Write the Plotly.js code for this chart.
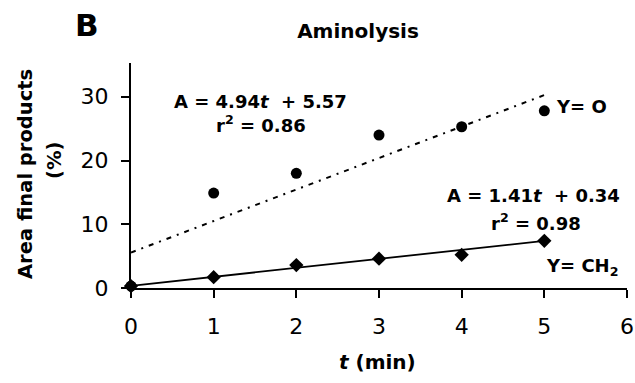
<!DOCTYPE html>
<html>
<head>
<meta charset="utf-8">
<script src="https://cdn.plot.ly/plotly-3.0.1.min.js"></script>
<style>html,body{margin:0;padding:0;background:#fff;}#chart{width:635px;height:383px;}</style>
</head>
<body>
<div id="chart"></div>
<script>
// Data
const timeMin = [0, 1, 2, 3, 4, 5];
const areaYO = [0.3, 14.9, 18.0, 24.0, 25.3, 27.8];   // Y = O (circles)
const areaYCH2 = [0.3, 1.7, 3.6, 4.6, 5.2, 7.4];      // Y = CH2 (diamonds)
const fitSlope = [4.94, 1.41];
const fitIntercept = [5.57, 0.34];
const fitR2 = [0.86, 0.98];
const fitRange = [0, 5];
const xTicks = [0, 1, 2, 3, 4, 5, 6];
const yTicks = [0, 10, 20, 30];

const FONT = 'DejaVu Sans, sans-serif';
const fitY = (i) => fitRange.map(t => fitSlope[i] * t + fitIntercept[i]);

const traces = [
  {x: fitRange, y: fitY(0), mode: 'lines', line: {color: '#000', width: 2, dash: '5px,6px,2px,6px'}, showlegend: false, hoverinfo: 'skip'},
  {x: fitRange, y: fitY(1), mode: 'lines', line: {color: '#000', width: 1.8}, showlegend: false, hoverinfo: 'skip'},
  {x: timeMin, y: areaYCH2, mode: 'markers', name: 'Y= CH2', marker: {symbol: 'diamond', size: 11, color: '#000'}, cliponaxis: false},
  {x: timeMin, y: areaYO, mode: 'markers', name: 'Y= O', marker: {symbol: 'circle', size: 11, color: '#000'}, cliponaxis: false}
];

const L = 131, W = 496, T = 63, H = 225;
const px = (x) => (x - L) / W;
const py = (y) => (T + H - y) / H;

const bold = {family: FONT, size: 18, color: '#000'};
function note(text, x, y, font, extra) {
  return Object.assign({text: text, xref: 'paper', yref: 'paper', x: px(x), y: py(y),
    xanchor: 'center', yanchor: 'middle', showarrow: false, font: font}, extra || {});
}
const annotations = [
  note('<b>B</b>', 87, 25, {family: FONT, size: 31, color: '#000'}),
  note('<b>A = ' + fitSlope[0] + '<i>t</i>  + ' + fitIntercept[0] + '</b>', 260, 101, bold),
  note('<b>r<sup>2</sup> = ' + fitR2[0] + '</b>', 261, 124, bold),
  note('<b>Y= O</b>', 581, 106, bold),
  note('<b>A = ' + fitSlope[1] + '<i>t</i>  + ' + fitIntercept[1] + '</b>', 533, 195, bold),
  note('<b>r<sup>2</sup> = ' + fitR2[1] + '</b>', 536, 222, bold),
  note('<b>Y= CH<sub>2</sub></b>', 582, 267, bold),
  note('<b>Area final products</b>', 25, 174, {family: FONT, size: 19.5, color: '#000'}, {textangle: -90}),
  note('<b>(%)</b>', 54, 161, {family: FONT, size: 19.5, color: '#000'}, {textangle: -90}),
  note('<b><i>t</i> (min)</b>', 377, 362, {family: FONT, size: 20, color: '#000'})
];

const layout = {
  width: 635, height: 383,
  margin: {l: L, r: 635 - L - W, t: T, b: 383 - T - H, pad: 0},
  paper_bgcolor: '#fff', plot_bgcolor: '#fff',
  showlegend: false,
  title: {text: '<b>Aminolysis</b>', xref: 'paper', x: px(358), xanchor: 'center', yref: 'container', y: 1 - 31 / 383, yanchor: 'middle', font: {family: FONT, size: 20, color: '#000'}},
  xaxis: {range: [0, 6], tickvals: xTicks, ticktext: xTicks.map(String), showgrid: false, zeroline: false, showline: true, linecolor: '#000', linewidth: 2, ticks: 'outside', ticklen: 8, tickwidth: 2, tickcolor: '#000', ticklabelstandoff: 10, tickfont: {family: FONT, size: 22, color: '#000'}, fixedrange: true},
  yaxis: {range: [0, 35.3], tickvals: yTicks, ticktext: yTicks.map(String), showgrid: false, zeroline: false, showline: true, linecolor: '#000', linewidth: 2, ticks: 'outside', ticklen: 8, tickwidth: 2, tickcolor: '#000', ticklabelstandoff: 8, tickfont: {family: FONT, size: 22, color: '#000'}, fixedrange: true},
  annotations: annotations
};

Plotly.newPlot('chart', traces, layout, {displayModeBar: false, staticPlot: true});
</script>
</body>
</html>
